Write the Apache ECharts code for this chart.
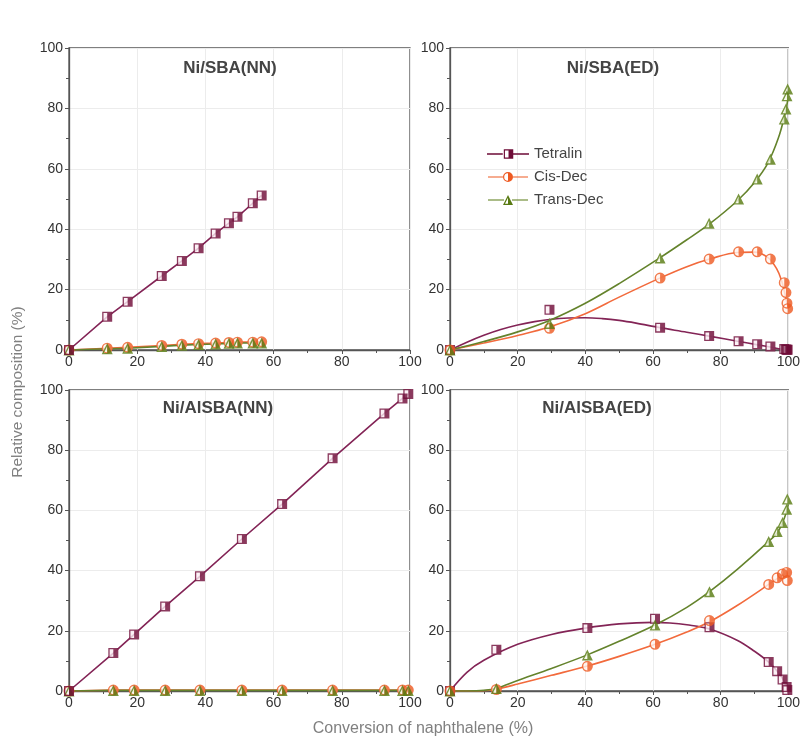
<!DOCTYPE html>
<html>
<head>
<meta charset="utf-8">
<script src="https://cdn.jsdelivr.net/npm/echarts@6/dist/echarts.min.js"></script>
<style>
html,body{margin:0;padding:0;background:#fff;}
#chart{width:803px;height:738px;}
</style>
</head>
<body>
<div id="chart"></div>
<script>
// ---------- Data ----------
const panelTitles = ['Ni/SBA(NN)', 'Ni/SBA(ED)', 'Ni/AlSBA(NN)', 'Ni/AlSBA(ED)'];
const seriesNames = ['Tetralin', 'Cis-Dec', 'Trans-Dec'];
const xTicks = [0, 20, 40, 60, 80, 100];
const yTicks = [0, 20, 40, 60, 80, 100];

// Ni/SBA(NN)
const snnX     = [0, 11.2, 17.2, 27.2, 33.1, 38.0, 43.0, 46.9, 49.4, 53.9, 56.5];
const snnTet   = [0, 11.0, 16.0, 24.5, 29.5, 33.7, 38.6, 42.0, 44.1, 48.6, 51.2];
const snnCis   = [0, 0.6, 0.9, 1.5, 1.9, 2.1, 2.3, 2.5, 2.6, 2.6, 2.7];
const snnTrans = [0, 0.4, 0.6, 1.2, 1.6, 1.8, 2.0, 2.2, 2.3, 2.3, 2.3];

// Ni/SBA(ED)
const sedX     = [0, 29.4, 62.1, 76.6, 85.3, 90.8, 94.7, 98.8, 99.3, 99.6, 99.8];
const sedTet   = [0, 13.3, 7.4, 4.6, 2.9, 1.9, 1.2, 0.3, 0.2, 0.1, 0.1];
const sedCis   = [0, 7.2, 23.8, 30.1, 32.5, 32.5, 30.1, 22.3, 19.0, 15.5, 13.7];
const sedTrans = [0, 8.8, 30.5, 42.0, 50.0, 56.6, 63.2, 76.5, 79.8, 84.2, 86.4];
// fitted curves (Ni/SBA(ED))
const sedTetCurveX   = [0, 5, 10, 15, 20, 25, 30, 35, 40, 45, 50, 55, 62, 70, 77, 85, 91, 95, 98, 100];
const sedTetCurveY   = [0, 2.6, 4.9, 6.8, 8.3, 9.4, 10.2, 10.6, 10.7, 10.4, 9.8, 8.9, 7.4, 5.9, 4.5, 2.9, 1.7, 0.9, 0.3, 0];
const sedCisCurveX   = [0, 10, 20, 29.4, 40, 50, 62, 70, 77, 85, 90, 94, 96.5, 98, 99, 100];
const sedCisCurveY   = [0, 2.3, 4.8, 7.6, 12.0, 17.5, 23.8, 27.6, 30.2, 32.3, 32.4, 30.6, 27.0, 23.0, 18.5, 13.5];
const sedTransCurveX = [0, 10, 20, 29.4, 40, 50, 62, 70, 77, 85, 90, 94, 97, 99, 100];
const sedTransCurveY = [0, 2.8, 6.0, 9.8, 15.5, 22.0, 30.5, 36.5, 42.0, 49.5, 55.5, 62.0, 70.0, 78.0, 84.0];

// Ni/AlSBA(NN)
const annX     = [0, 13.0, 19.1, 28.2, 38.4, 50.7, 62.5, 77.3, 92.5, 97.8, 99.5];
const annTet   = [0, 12.6, 18.8, 28.1, 38.1, 50.5, 62.1, 77.3, 92.2, 97.2, 98.7];
const annCis   = [0, 0.3, 0.3, 0.3, 0.3, 0.3, 0.3, 0.3, 0.3, 0.3, 0.3];
const annTrans = [0, 0.2, 0.2, 0.2, 0.2, 0.2, 0.2, 0.2, 0.2, 0.2, 0.2];

// Ni/AlSBA(ED)
const aedX     = [0, 13.7, 40.6, 60.6, 76.7, 94.2, 96.7, 98.3, 99.5, 99.7];
const aedTet   = [0, 13.7, 20.9, 24.0, 21.2, 9.6, 6.6, 3.8, 1.3, 0.3];
const aedCis   = [0, 0.5, 8.2, 15.5, 23.4, 35.4, 37.6, 38.9, 39.4, 36.7];
const aedTrans = [0, 0.8, 12.0, 21.9, 33.0, 49.7, 53.0, 56.0, 60.4, 63.8];
// fitted curves (Ni/AlSBA(ED))
const aedTetCurveX   = [0, 5, 10, 20, 30, 40, 50, 60, 65, 70, 76.7, 85, 90, 94.2, 97, 99, 100];
const aedTetCurveY   = [0, 6.2, 10.2, 15.5, 18.8, 20.9, 22.3, 22.8, 22.6, 22.0, 20.6, 16.8, 13.2, 9.6, 6.2, 2.8, 0.5];
const aedCisCurveX   = [0, 5, 10, 13.7, 20, 30, 40.6, 50, 60.6, 70, 76.7, 85, 94.2, 97, 99, 100];
const aedCisCurveY   = [0, 0, 0.1, 0.6, 2.3, 5.2, 8.3, 11.5, 15.5, 19.6, 23.0, 28.5, 35.4, 37.6, 39.0, 38.0];
const aedTransCurveX = [0, 5, 10, 13.7, 20, 30, 40.6, 50, 60.6, 70, 76.7, 85, 94.2, 97, 99, 100];
const aedTransCurveY = [0, 0, 0.2, 0.9, 3.5, 7.5, 12.0, 16.5, 21.9, 27.8, 33.0, 40.5, 49.7, 53.0, 58.0, 62.0];

// ---------- Styling ----------
const COLORS = {
  'Tetralin':  { line: '#832456', mark: '#6e0b37', bg: '#fbeef4' },
  'Cis-Dec':   { line: '#f26a3c', mark: '#ee5a22', bg: '#fff4ef' },
  'Trans-Dec': { line: '#64832c', mark: '#587a12', bg: '#f6faea' }
};
const SHAPES = {
  'Tetralin':  { base: 'rect', size: 10,
    half: 'path://M0 0H10V10H0Z M1.3 1.3V8.7H5V1.3Z' },
  'Cis-Dec':   { base: 'circle', size: 11,
    half: 'path://M5 0A5 5 0 1 1 5 10A5 5 0 1 1 5 0Z M5 1.3A3.7 3.7 0 0 0 5 8.7Z' },
  'Trans-Dec': { base: 'triangle', size: 11,
    half: 'path://M5 0L10 10L0 10Z M5 2.8L2 8.8L5 8.8Z' }
};
const LEGEND_ICONS = {
  'Tetralin':  'path://M0 4.4H15V5.6H0Z M25 4.4H40V5.6H25Z M16 0.5H25V9.5H16Z M17.1 1.6V8.4H20.5V1.6Z',
  'Cis-Dec':   'path://M0 4.4H15V5.6H0Z M25 4.4H40V5.6H25Z M20 0A5 5 0 1 1 20 10A5 5 0 1 1 20 0Z M20 1.2A3.8 3.8 0 0 0 20 8.8Z',
  'Trans-Dec': 'path://M0 4.4H16V5.6H0Z M24 4.4H40V5.6H24Z M20 0L25 10L15 10Z M20 2.8L17 8.8L20 8.8Z'
};

const zip = (xs, ys) => xs.map((x, i) => [x, ys[i]]);

const grids = [
  { left: 69, top: 48, width: 341, height: 302 },
  { left: 450, top: 48, width: 341, height: 302 },
  { left: 69, top: 390, width: 341, height: 301 },
  { left: 450, top: 390, width: 341, height: 301 }
].map(g => Object.assign(g, { show: true, borderColor: '#555', borderWidth: 1.3, backgroundColor: 'transparent' }));

const axisCommon = {
  type: 'value', min: xTicks[0], max: xTicks[xTicks.length - 1], interval: 20,
  axisLine: { show: true, lineStyle: { color: '#555', width: 1.3 } },
  axisTick: { show: true, inside: false, length: 4, lineStyle: { color: '#555' } },
  minorTick: { show: true, splitNumber: 2, length: 3, lineStyle: { color: '#555' } },
  splitLine: { show: true, lineStyle: { color: '#ececec', width: 1 } },
  axisLabel: { color: '#333', fontSize: 14, fontFamily: 'Liberation Sans, Arial, sans-serif', margin: 5 }
};
const xAxes = grids.map((g, i) => Object.assign({}, axisCommon, { gridIndex: i }));
const yAxes = grids.map((g, i) => Object.assign({}, axisCommon, {
  gridIndex: i, min: yTicks[0], max: yTicks[yTicks.length - 1],
  axisLabel: Object.assign({}, axisCommon.axisLabel, { margin: 6 })
}));

const series = [];
function addSeries(panel, name, xs, ys, curveX, curveY, smooth) {
  const c = COLORS[name], s = SHAPES[name];
  series.push({
    type: 'line', name: name, xAxisIndex: panel, yAxisIndex: panel,
    data: zip(curveX, curveY), showSymbol: false, smooth: smooth ? 0.35 : false,
    lineStyle: { color: c.line, width: 1.6 }, itemStyle: { color: c.mark, borderWidth: 0 },
    silent: true, z: 2
  });
  series.push({
    type: 'scatter', name: name + ' bg', xAxisIndex: panel, yAxisIndex: panel,
    data: zip(xs, ys), symbol: s.base, symbolSize: s.size - 1,
    itemStyle: { color: c.bg }, silent: true, z: 3
  });
  series.push({
    type: 'scatter', name: name + ' pts', xAxisIndex: panel, yAxisIndex: panel,
    data: zip(xs, ys), symbol: s.half, symbolSize: s.size,
    itemStyle: { color: c.mark }, silent: true, z: 4
  });
}

// Panel 0: Ni/SBA(NN)
addSeries(0, 'Cis-Dec', snnX, snnCis, snnX, snnCis, false);
addSeries(0, 'Trans-Dec', snnX, snnTrans, snnX, snnTrans, false);
addSeries(0, 'Tetralin', snnX, snnTet, snnX, snnTet, false);
// Panel 1: Ni/SBA(ED)
addSeries(1, 'Tetralin', sedX, sedTet, sedTetCurveX, sedTetCurveY, true);
addSeries(1, 'Cis-Dec', sedX, sedCis, sedCisCurveX, sedCisCurveY, true);
addSeries(1, 'Trans-Dec', sedX, sedTrans, sedTransCurveX, sedTransCurveY, true);
// Panel 2: Ni/AlSBA(NN)
addSeries(2, 'Cis-Dec', annX, annCis, annX, annCis, false);
addSeries(2, 'Trans-Dec', annX, annTrans, annX, annTrans, false);
addSeries(2, 'Tetralin', annX, annTet, annX, annTet, false);
// Panel 3: Ni/AlSBA(ED)
addSeries(3, 'Tetralin', aedX, aedTet, aedTetCurveX, aedTetCurveY, true);
addSeries(3, 'Cis-Dec', aedX, aedCis, aedCisCurveX, aedCisCurveY, true);
addSeries(3, 'Trans-Dec', aedX, aedTrans, aedTransCurveX, aedTransCurveY, true);

const titlePos = [[230, 68], [613, 68], [218, 408], [597, 408]];
const graphics = panelTitles.map((t, i) => ({
  type: 'text', x: titlePos[i][0], y: titlePos[i][1], z: 10,
  style: { text: t, fill: '#444', font: 'bold 17px "Liberation Sans", Arial, sans-serif',
           textAlign: 'center', textVerticalAlign: 'middle' }
}));
graphics.push({
  type: 'text', x: 18, y: 392, rotation: Math.PI / 2, z: 10,
  style: { text: 'Relative composition (%)', fill: '#808080',
           font: '15.5px "Liberation Sans", Arial, sans-serif', textAlign: 'center', textVerticalAlign: 'middle' }
});
graphics.push({
  type: 'text', x: 423, y: 729, z: 10,
  style: { text: 'Conversion of naphthalene (%)', fill: '#808080',
           font: '16px "Liberation Sans", Arial, sans-serif', textAlign: 'center', textVerticalAlign: 'middle' }
});

const option = {
  animation: false,
  backgroundColor: '#fff',
  grid: grids,
  xAxis: xAxes,
  yAxis: yAxes,
  legend: {
    orient: 'vertical', left: 482, top: 141, itemWidth: 42, itemHeight: 10, itemGap: 7,
    selectedMode: false,
    itemStyle: { borderWidth: 0 },
    textStyle: { color: '#444', fontSize: 15, fontFamily: 'Liberation Sans, Arial, sans-serif', lineHeight: 16 },
    data: seriesNames.map(n => ({ name: n, icon: LEGEND_ICONS[n] }))
  },
  graphic: graphics,
  series: series
};

const chart = echarts.init(document.getElementById('chart'), null, { renderer: 'canvas' });
chart.setOption(option);
</script>
</body>
</html>
